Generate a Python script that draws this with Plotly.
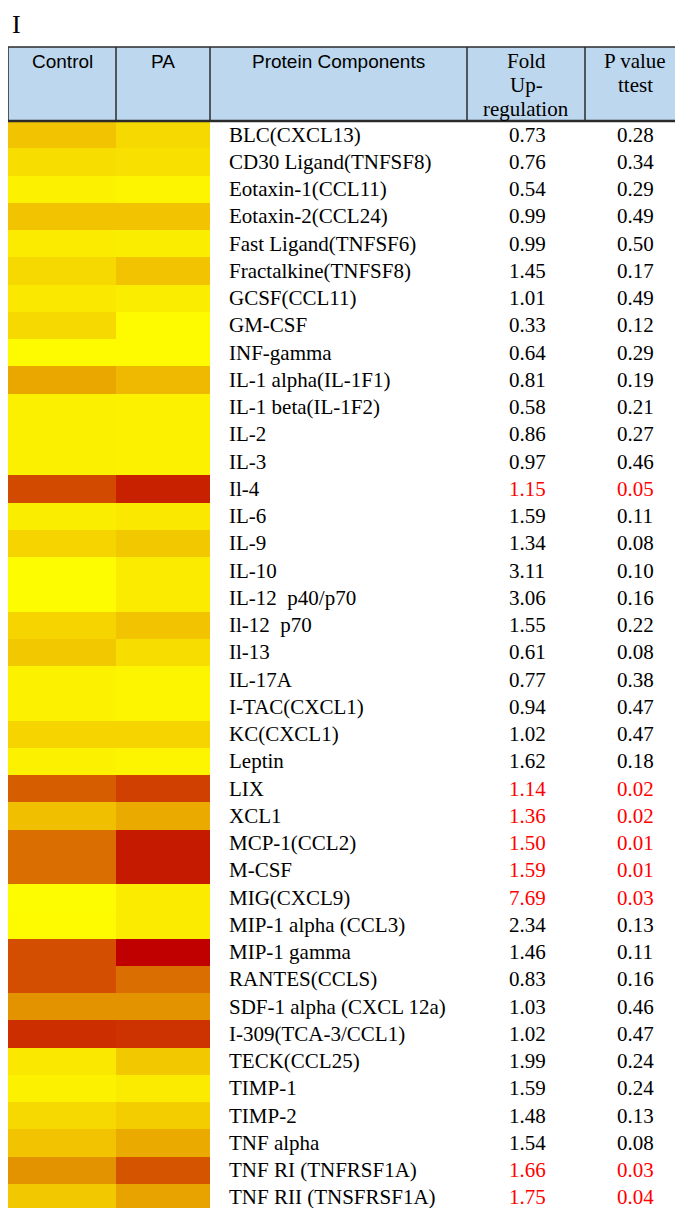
import plotly.graph_objects as go

panel_label = "I"
header_labels = ["Control", "PA", "Protein Components", "Fold<br>Up-<br>regulation", "P value<br>ttest"]
proteins = [
    "BLC(CXCL13)", "CD30 Ligand(TNFSF8)", "Eotaxin-1(CCL11)", "Eotaxin-2(CCL24)",
    "Fast Ligand(TNFSF6)", "Fractalkine(TNFSF8)", "GCSF(CCL11)", "GM-CSF", "INF-gamma",
    "IL-1 alpha(IL-1F1)", "IL-1 beta(IL-1F2)", "IL-2", "IL-3", "Il-4", "IL-6", "IL-9",
    "IL-10", "IL-12\u00a0 p40/p70", "Il-12\u00a0 p70", "Il-13", "IL-17A", "I-TAC(CXCL1)",
    "KC(CXCL1)", "Leptin", "LIX", "XCL1", "MCP-1(CCL2)", "M-CSF", "MIG(CXCL9)",
    "MIP-1 alpha (CCL3)", "MIP-1 gamma", "RANTES(CCLS)", "SDF-1 alpha (CXCL 12a)",
    "I-309(TCA-3/CCL1)", "TECK(CCL25)", "TIMP-1", "TIMP-2", "TNF alpha",
    "TNF RI (TNFRSF1A)", "TNF RII (TNSFRSF1A)",
]
fold_up = [0.73, 0.76, 0.54, 0.99, 0.99, 1.45, 1.01, 0.33, 0.64, 0.81, 0.58, 0.86, 0.97,
           1.15, 1.59, 1.34, 3.11, 3.06, 1.55, 0.61, 0.77, 0.94, 1.02, 1.62, 1.14, 1.36,
           1.50, 1.59, 7.69, 2.34, 1.46, 0.83, 1.03, 1.02, 1.99, 1.59, 1.48, 1.54, 1.66, 1.75]
p_value = [0.28, 0.34, 0.29, 0.49, 0.50, 0.17, 0.49, 0.12, 0.29, 0.19, 0.21, 0.27, 0.46,
           0.05, 0.11, 0.08, 0.10, 0.16, 0.22, 0.08, 0.38, 0.47, 0.47, 0.18, 0.02, 0.02,
           0.01, 0.01, 0.03, 0.13, 0.11, 0.16, 0.46, 0.47, 0.24, 0.24, 0.13, 0.08, 0.03, 0.04]
# heat intensity (0 = yellow, 1 = dark red)
control_level = [0.24, 0.13, 0.05, 0.24, 0.08, 0.15, 0.09, 0.15, 0.02, 0.36, 0.06, 0.06, 0.06,
                 0.72, 0.07, 0.17, 0.01, 0.01, 0.17, 0.22, 0.05, 0.05, 0.17, 0.05, 0.65, 0.25,
                 0.59, 0.59, 0.01, 0.02, 0.70, 0.70, 0.45, 0.82, 0.09, 0.05, 0.15, 0.24, 0.45, 0.22]
pa_level = [0.15, 0.12, 0.04, 0.24, 0.07, 0.24, 0.07, 0.02, 0.02, 0.28, 0.05, 0.05, 0.05,
            0.87, 0.09, 0.22, 0.08, 0.08, 0.24, 0.13, 0.04, 0.04, 0.17, 0.04, 0.75, 0.35,
            0.90, 0.90, 0.08, 0.08, 1.00, 0.59, 0.45, 0.80, 0.22, 0.08, 0.20, 0.35, 0.68, 0.38]

# the page body has an 8px default margin: lay out in page pixels, offset by it
OFF = 8
W, H = 683 - OFF, 1208 - OFF
HEAD_TOP, HEAD_BOT = 47, 121
ROW_H = 27.25
COL_EDGES = [8, 116, 210, 467, 585, 700]
SERIF = "Liberation Serif"
SANS = "Liberation Sans"


def py(px):
    return 1 - (px - OFF) / H


colorscale = [[0.0, "#FFFF00"], [0.25, "#F0C000"], [0.5, "#E08800"],
              [0.75, "#D04000"], [1.0, "#C00000"]]

z = [[c, p] for c, p in zip(control_level, pa_level)]

fig = go.Figure()
fig.add_trace(go.Heatmap(
    z=z, x=COL_EDGES[:3], y=proteins,
    colorscale=colorscale, zmin=0, zmax=1, showscale=False, hoverinfo="skip",
))

n_vis = (1208 - HEAD_BOT) / ROW_H
fig.update_layout(
    width=W, height=H, margin=dict(l=0, r=0, t=0, b=0),
    paper_bgcolor="white", plot_bgcolor="white", showlegend=False,
    xaxis=dict(range=[OFF, OFF + W], domain=[0, 1], visible=False, fixedrange=True),
    yaxis=dict(domain=[0, py(HEAD_BOT)], range=[n_vis - 0.5, -0.5], visible=False,
               type="category", fixedrange=True),
)

# header
shapes = [dict(type="rect", xref="x", yref="paper", x0=COL_EDGES[0], x1=COL_EDGES[-1],
               y0=py(HEAD_BOT), y1=py(HEAD_TOP), fillcolor="#BDD7EE",
               line=dict(color="#2b2b2b", width=1.5), layer="above")]
for xe in COL_EDGES[1:-1]:
    shapes.append(dict(type="line", xref="x", yref="paper", x0=xe, x1=xe,
                       y0=py(HEAD_BOT), y1=py(HEAD_TOP), line=dict(color="#2b2b2b", width=1.5)))
shapes.append(dict(type="line", xref="x", yref="paper", x0=COL_EDGES[0], x1=COL_EDGES[-1],
                   y0=py(HEAD_BOT), y1=py(HEAD_BOT), line=dict(color="#2b2b2b", width=2.5)))
fig.update_layout(shapes=shapes)

ann = [dict(text=panel_label, xref="x", yref="paper", x=10, y=py(8),
            xanchor="left", yanchor="top", showarrow=False,
            font=dict(family=SERIF, size=26, color="black"))]
header_fonts = [SANS, SANS, SANS, SERIF, SERIF]
header_sizes = [19, 19, 19, 21, 21]
header_centers = [(COL_EDGES[i] + COL_EDGES[i + 1]) / 2 for i in range(5)]
header_centers[4] = 635
HEAD_LINE1, HEAD_LINE_STEP = 61, 24
for lab, cx, fam, sz in zip(header_labels, header_centers, header_fonts, header_sizes):
    for i, line in enumerate(lab.split("<br>")):
        ann.append(dict(text=line, xref="x", yref="paper", x=cx,
                        y=py(HEAD_LINE1 + i * HEAD_LINE_STEP),
                        xanchor="center", yanchor="middle", showarrow=False,
                        font=dict(family=fam, size=sz, color="black")))

for name, f, p in zip(proteins, fold_up, p_value):
    col = "#FF0000" if p <= 0.05 else "black"
    ann.append(dict(text=name, xref="x", yref="y", x=227, y=name, xanchor="left",
                    yanchor="middle", showarrow=False,
                    font=dict(family=SERIF, size=21, color="black")))
    ann.append(dict(text=f"{f:.2f}", xref="x", yref="y", x=527, y=name, xanchor="center",
                    yanchor="middle", showarrow=False,
                    font=dict(family=SERIF, size=21, color=col)))
    ann.append(dict(text=f"{p:.2f}", xref="x", yref="y", x=635, y=name, xanchor="center",
                    yanchor="middle", showarrow=False,
                    font=dict(family=SERIF, size=21, color=col)))
fig.update_layout(annotations=ann)

fig.write_html("out.html")
